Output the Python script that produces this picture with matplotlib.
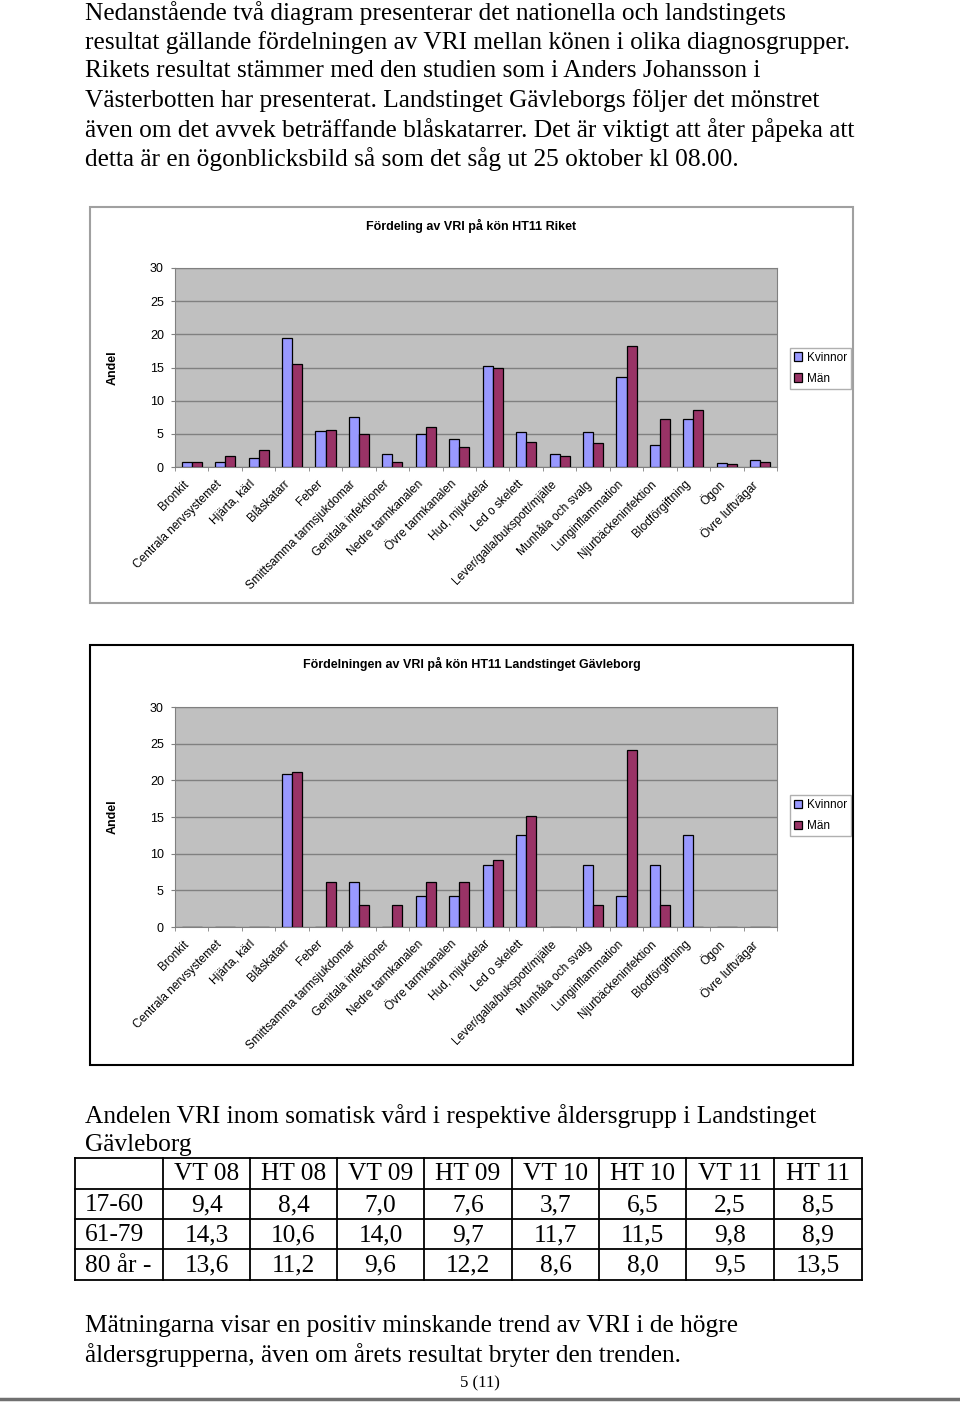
import matplotlib
matplotlib.use('Agg')
import matplotlib.pyplot as plt
import numpy as np
from matplotlib.patches import Rectangle
from matplotlib.lines import Line2D

## Data ##
categories = ['Bronkit', 'Centrala nervsystemet', 'Hjärta, kärl', 'Blåskatarr', 'Feber',
              'Smittsamma tarmsjukdomar', 'Genitala infektioner', 'Nedre tarmkanalen',
              'Övre tarmkanalen', 'Hud, mjukdelar', 'Led o skelett',
              'Lever/galla/bukspott/mjälte', 'Munhåla och svalg', 'Lunginflammation',
              'Njurbäckeninfektion', 'Blodförgiftning', 'Ögon', 'Övre luftvägar']

riket_kvinnor = [0.8, 0.8, 1.3, 19.4, 5.5, 7.5, 2.0, 5.0, 4.2, 15.2, 5.3, 2.0, 5.3, 13.6, 3.3, 7.3, 0.6, 1.1]
riket_man = [0.8, 1.7, 2.5, 15.5, 5.6, 5.0, 0.8, 6.0, 3.0, 15.0, 3.8, 1.6, 3.6, 18.2, 7.3, 8.6, 0.4, 0.8]

gavle_kvinnor = [0, 0, 0, 20.8, 0, 6.2, 0, 4.2, 4.2, 8.4, 12.5, 0, 8.4, 4.2, 8.4, 12.5, 0, 0]
gavle_man = [0, 0, 0, 21.2, 6.2, 3.0, 3.0, 6.2, 6.2, 9.1, 15.2, 0, 3.0, 24.2, 3.0, 0, 0, 0]

table_cols = ['VT 08', 'HT 08', 'VT 09', 'HT 09', 'VT 10', 'HT 10', 'VT 11', 'HT 11']
table_rows = ['17-60', '61-79', '80 år -']
table_values = [['9,4', '8,4', '7,0', '7,6', '3,7', '6,5', '2,5', '8,5'],
                ['14,3', '10,6', '14,0', '9,7', '11,7', '11,5', '9,8', '8,9'],
                ['13,6', '11,2', '9,6', '12,2', '8,6', '8,0', '9,5', '13,5']]

para1 = ['Nedanstående två diagram presenterar det nationella och landstingets',
         'resultat gällande fördelningen av VRI mellan könen i olika diagnosgrupper.',
         'Rikets resultat stämmer med den studien som i Anders Johansson i',
         'Västerbotten har presenterat. Landstinget Gävleborgs följer det mönstret',
         'även om det avvek beträffande blåskatarrer. Det är viktigt att åter påpeka att',
         'detta är en ögonblicksbild så som det såg ut 25 oktober kl 08.00.']
para2 = ['Andelen VRI inom somatisk vård i respektive åldersgrupp i Landstinget',
         'Gävleborg']
para3 = ['Mätningarna visar en positiv minskande trend av VRI i de högre',
         'åldersgrupperna, även om årets resultat bryter den trenden.']

## Page setup (pixel helpers) ##
W, H = 960, 1403
fig = plt.figure(figsize=(W / 100, H / 100), dpi=100)
fig.patch.set_facecolor('white')

def fx(x):
    return x / W

def fy(y):
    return 1 - y / H

serif = 'Liberation Serif'
sans = 'Liberation Sans'
body_size = 18.3

def page_text(lines, y0, step=29.2):
    for i, line in enumerate(lines):
        fig.text(fx(85), fy(y0 + i * step), line, fontsize=body_size, family=serif,
                 va='center', ha='left', color='black')

page_text(para1, 13)
page_text(para2, 1116)
page_text(para3, 1326)
fig.text(fx(480), fy(1383), '5 (11)', fontsize=12, family=serif, ha='center', va='center')
fig.add_artist(Line2D([fx(0), fx(958)], [fy(1399), fy(1399)], color='#707070', lw=2.5,
                      transform=fig.transFigure))

## Charts ##
def draw_chart(box, plot, title, kvinnor, man, box_color):
    bx0, by0, bx1, by1 = box
    fig.add_artist(Rectangle((fx(bx0), fy(by1)), (bx1 - bx0) / W, (by1 - by0) / H,
                             transform=fig.transFigure, fill=False,
                             edgecolor=box_color, lw=1.5))
    fig.text(fx((bx0 + bx1) / 2), fy(by0 + 19), title, fontsize=9, fontweight='bold',
             family=sans, ha='center', va='center')

    px0, py0, px1, py1 = plot
    ax = fig.add_axes([fx(px0), fy(py1), (px1 - px0) / W, (py1 - py0) / H])
    ax.set_facecolor('#C0C0C0')
    x = np.arange(len(categories))
    w = 0.3
    ax.bar(x - w / 2, kvinnor, w, color='#9999FF', edgecolor='black', lw=0.9,
           label='Kvinnor', zorder=3)
    ax.bar(x + w / 2, man, w, color='#993366', edgecolor='black', lw=0.9,
           label='Män', zorder=3)
    ax.set_xlim(-0.5, len(categories) - 0.5)
    ax.set_ylim(0, 30)
    ax.set_yticks(range(0, 31, 5))
    ax.grid(axis='y', color='#808080', lw=1, zorder=1)
    ax.set_axisbelow(True)
    for s in ['top', 'right', 'left', 'bottom']:
        ax.spines[s].set_color('#808080')
    ax.tick_params(axis='y', labelsize=9, length=3, color='#808080', pad=5)
    for t in ax.get_yticklabels():
        t.set_family(sans)
    # labels end slightly left of the category centre, as in the original
    ax.set_xticks(x - 0.27)
    ax.set_xticklabels(categories, rotation=45, ha='right', va='top',
                       rotation_mode='anchor', fontsize=8.6, family=sans)
    ax.tick_params(axis='x', length=0, pad=8)
    ax.set_xticks(np.arange(-0.5, len(categories)), minor=True)
    ax.tick_params(axis='x', which='minor', length=3, color='#808080')
    fig.text(fx(113), fy((py0 + py1) / 2), 'Andel', rotation=90, fontsize=9,
             fontweight='bold', family=sans, ha='center', va='center')
    leg_y = py0 + (py1 - py0) * 0.4
    ax.legend(loc='upper left', bbox_to_anchor=(fx(790), fy(leg_y)),
              bbox_transform=fig.transFigure, fancybox=False, edgecolor='#B0B0B0',
              prop={'family': sans, 'size': 8.5}, handlelength=0.7, handleheight=0.7,
              handletextpad=0.35, borderpad=0.35, labelspacing=0.75, framealpha=1,
              borderaxespad=0)
    return ax

draw_chart((90, 207, 853, 603), (175, 268, 777, 467),
           'Fördeling av VRI på kön HT11 Riket', riket_kvinnor, riket_man, '#A0A0A0')
draw_chart((90, 645, 853, 1065), (175, 707, 777, 927),
           'Fördelningen av VRI på kön HT11 Landstinget Gävleborg',
           gavle_kvinnor, gavle_man, 'black')

## Table ##
col_edges = [75, 163, 250, 337, 424, 512, 599, 686, 774, 862]
row_edges = [1158, 1189, 1219, 1249, 1280]
for xe in col_edges:
    fig.add_artist(Line2D([fx(xe), fx(xe)], [fy(row_edges[0]), fy(row_edges[-1])],
                          color='black', lw=1.3, transform=fig.transFigure))
for ye in row_edges:
    fig.add_artist(Line2D([fx(col_edges[0]), fx(col_edges[-1])], [fy(ye), fy(ye)],
                          color='black', lw=1.3, transform=fig.transFigure))

def row_mid(i):
    return (row_edges[i] + row_edges[i + 1]) / 2 + 1

for j, c in enumerate(table_cols):
    fig.text(fx((col_edges[j + 1] + col_edges[j + 2]) / 2), fy(row_mid(0)), c,
             fontsize=body_size, family=serif, ha='center', va='center')
for i, r in enumerate(table_rows):
    fig.text(fx(85), fy(row_mid(i + 1)), r, fontsize=body_size, family=serif,
             ha='left', va='center')
    for j, v in enumerate(table_values[i]):
        fig.text(fx((col_edges[j + 1] + col_edges[j + 2]) / 2), fy(row_mid(i + 1)), v,
                 fontsize=body_size, family=serif, ha='center', va='center')

fig.savefig('out.png', dpi=100)
